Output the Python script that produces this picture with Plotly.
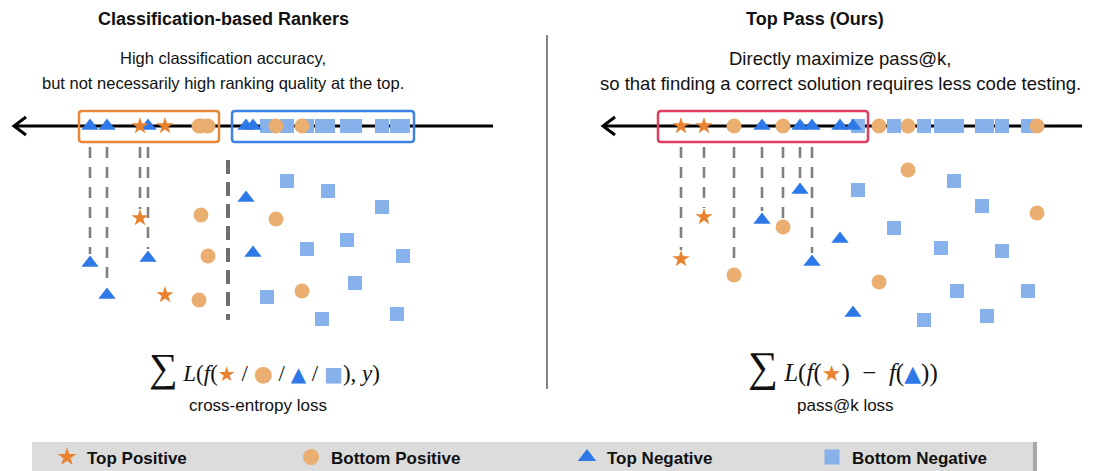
import plotly.graph_objects as go

# ---------------- data ----------------
categories = ["Top Positive", "Bottom Positive", "Top Negative", "Bottom Negative"]

# Left panel: classification-based rankers  (score position, vertical spread)
left_tp_x = [140, 165]
left_tp_y = [218, 295]
left_bp_x = [201, 208, 199, 276, 302]
left_bp_y = [215, 256, 300, 219, 291]
left_tn_x = [90, 148, 107, 246, 253]
left_tn_y = [263, 258, 295, 198, 253]
left_bn_x = [287, 328, 382, 347, 307, 403, 355, 267, 322, 397]
left_bn_y = [181, 191, 207, 240, 249, 256, 283, 297, 319, 314]

# Right panel: Top Pass (ours)
right_tp_x = [681, 704]
right_tp_y = [259, 217]
right_bp_x = [734, 783, 908, 1037, 879]
right_bp_y = [275, 227, 170, 213, 282]
right_tn_x = [762, 800, 812, 840, 853]
right_tn_y = [220, 190, 262, 239, 313]
right_bn_x = [858, 954, 982, 894, 941, 1002, 957, 1028, 924, 987]
right_bn_y = [190, 181, 206, 228, 248, 251, 291, 291, 320, 316]

left_top_k = 4
right_top_k = 7

# ---------------- styles ----------------
C_TP = "#E8822F"
C_BP = "#E9AE70"
C_TN = "#2E78E8"
C_BN = "#86B1EB"
SYMBOL = {"Top Positive": "star", "Bottom Positive": "circle",
          "Top Negative": "triangle-up", "Bottom Negative": "square"}
COLOR = {"Top Positive": C_TP, "Bottom Positive": C_BP,
         "Top Negative": C_TN, "Bottom Negative": C_BN}
SIZE = {"Top Positive": 13, "Bottom Positive": 15,
        "Top Negative": 15, "Bottom Negative": 14}

AXIS_Y = 126
FONT = "Liberation Sans, Arial, Helvetica, sans-serif"
SERIF = "Liberation Serif, DejaVu Serif, serif"

fig = go.Figure()

panels = {
    "left": {"Top Positive": (left_tp_x, left_tp_y), "Bottom Positive": (left_bp_x, left_bp_y),
             "Top Negative": (left_tn_x, left_tn_y), "Bottom Negative": (left_bn_x, left_bn_y)},
    "right": {"Top Positive": (right_tp_x, right_tp_y), "Bottom Positive": (right_bp_x, right_bp_y),
              "Top Negative": (right_tn_x, right_tn_y), "Bottom Negative": (right_bn_x, right_bn_y)},
}
top_k = {"left": left_top_k, "right": right_top_k}

# dashed connectors from axis to the top-k candidates
for pname, pdata in panels.items():
    pts = []
    for cat, (xs, ys) in pdata.items():
        pts += list(zip(xs, ys))
    pts.sort(key=lambda p: p[0])
    cx, cy = [], []
    for x, y in pts[:top_k[pname]]:
        cx += [x, x, None]
        cy += [147, y - 9, None]
    fig.add_trace(go.Scatter(x=cx, y=cy, mode="lines", hoverinfo="skip",
                             line=dict(color="#808080", width=2.6, dash="11px,9px"),
                             showlegend=False))

# axis lines (drawn before markers)
for x0, x1 in [(14, 493), (603, 1082)]:
    fig.add_trace(go.Scatter(x=[x0, x1], y=[AXIS_Y, AXIS_Y], mode="lines", hoverinfo="skip",
                             line=dict(color="black", width=3), showlegend=False))
    fig.add_trace(go.Scatter(x=[x0 + 12, x0, x0 + 12], y=[AXIS_Y - 9, AXIS_Y, AXIS_Y + 9],
                             mode="lines", hoverinfo="skip",
                             line=dict(color="black", width=3), showlegend=False))

# thick separator in the left panel
fig.add_trace(go.Scatter(x=[228, 228], y=[160, 320], mode="lines", hoverinfo="skip",
                         line=dict(color="#6E6E6E", width=4, dash="14px,8px"), showlegend=False))

order = ["Bottom Negative", "Bottom Positive", "Top Negative", "Top Positive"]
for pname, pdata in panels.items():
    for cat in order:
        xs, ys = pdata[cat]
        mk = dict(symbol=SYMBOL[cat], color=COLOR[cat], size=SIZE[cat], line=dict(width=0))
        fig.add_trace(go.Scatter(x=xs, y=ys, mode="markers", marker=mk, name=cat, showlegend=False))
    for cat in order:
        xs, ys = pdata[cat]
        mk = dict(symbol=SYMBOL[cat], color=COLOR[cat], size=SIZE[cat], line=dict(width=0))
        fig.add_trace(go.Scatter(x=xs, y=[AXIS_Y] * len(xs), mode="markers", marker=mk,
                                 name=cat, showlegend=False))


def rounded_rect(x0, y0, x1, y1, r=3):
    return ("M %g,%g L %g,%g Q %g,%g %g,%g L %g,%g Q %g,%g %g,%g L %g,%g Q %g,%g %g,%g "
            "L %g,%g Q %g,%g %g,%g Z" % (
                x0 + r, y0, x1 - r, y0, x1, y0, x1, y0 + r, x1, y1 - r, x1, y1, x1 - r, y1,
                x0 + r, y1, x0, y1, x0, y1 - r, x0, y0 + r, x0, y0, x0 + r, y0))


# boxes
shapes = [
    dict(type="path", path=rounded_rect(79, 111, 219, 142), line=dict(color="#E8873A", width=2.5)),
    dict(type="path", path=rounded_rect(232, 111, 414, 142), line=dict(color="#3D82E2", width=2.5)),
    dict(type="path", path=rounded_rect(658, 111, 868, 142), line=dict(color="#DF3F5F", width=2.5)),
    # panel divider
    dict(type="line", x0=547, x1=547, y0=35, y1=389, line=dict(color="#444444", width=1.3)),
    # legend bar
    dict(type="rect", x0=1031, x1=1037, y0=442, y1=472, line=dict(width=0), fillcolor="#A8A8A8", layer="below"),
    dict(type="rect", x0=32, x1=1033, y0=442, y1=472, line=dict(width=0), fillcolor="#DCDCDC", layer="below"),
]

annotations = []
def txt(x, y, t, size=16, bold=False, family=FONT, xanchor="center", color="#111111"):
    annotations.append(dict(x=x, y=y, xref="x", yref="y", text=("<b>%s</b>" % t) if bold else t,
                            showarrow=False, xanchor=xanchor, yanchor="middle",
                            font=dict(family=family, size=size, color=color)))

txt(223, 19, "Classification-based Rankers", size=18, bold=True)
txt(815, 19, "Top Pass (Ours)", size=18, bold=True)
txt(223, 58, "High classification accuracy,", size=16.5)
txt(223, 83, "but not necessarily high ranking quality at the top.", size=16.5)
txt(840, 58, "Directly maximize pass@k,", size=18.5)
txt(840, 83, "so that finding a correct solution requires less code testing.", size=18.5)

sym = lambda c, s, fs=20: ("<span style='color:%s;font-size:%dpx;font-family:DejaVu Sans'>%s</span>"
                           % (c, fs, s))
left_formula = ("<span style='font-size:40px'>∑</span> <i>L</i>(<i>f</i>(" + sym(C_TP, "★") + " / " +
                sym(C_BP, "●", 22) + " / " + sym(C_TN, "▲") + " / " + sym(C_BN, "■") + "), <i>y</i>)")
right_formula = ("<span style='font-size:42px'>∑</span>&nbsp;<i>L</i>(<i>f</i>(" + sym(C_TP, "★", 22) +
                 ")&nbsp;&nbsp;−&nbsp;&nbsp;<i>f</i>(" + sym(C_TN, "▲", 22) + "))")
txt(264, 367, left_formula, size=23, family=SERIF)
txt(843, 367, right_formula, size=25, family=SERIF)
txt(258, 405, "cross-entropy loss", size=17)
txt(845, 405, "pass@k loss", size=17)

# legend row
legend_x = [67, 311, 587, 832]
for cat, lx in zip(categories, legend_x):
    fig.add_trace(go.Scatter(x=[lx], y=[457], mode="markers", showlegend=False, hoverinfo="skip",
                             marker=dict(symbol=SYMBOL[cat], color=COLOR[cat], size=SIZE[cat] + 1,
                                         line=dict(width=0))))
    txt(lx + 18, 458, cat, size=17, bold=True, xanchor="left")

fig.update_layout(
    width=1093, height=471, margin=dict(l=0, r=0, t=0, b=0),
    paper_bgcolor="white", plot_bgcolor="white",
    xaxis=dict(range=[0, 1093], visible=False, fixedrange=True),
    yaxis=dict(range=[471, 0], visible=False, fixedrange=True),
    shapes=shapes, annotations=annotations, showlegend=False,
)
fig.write_html("out.html", config={"displayModeBar": False},
               post_script="document.body.style.margin='0';document.body.style.overflow='hidden';")
